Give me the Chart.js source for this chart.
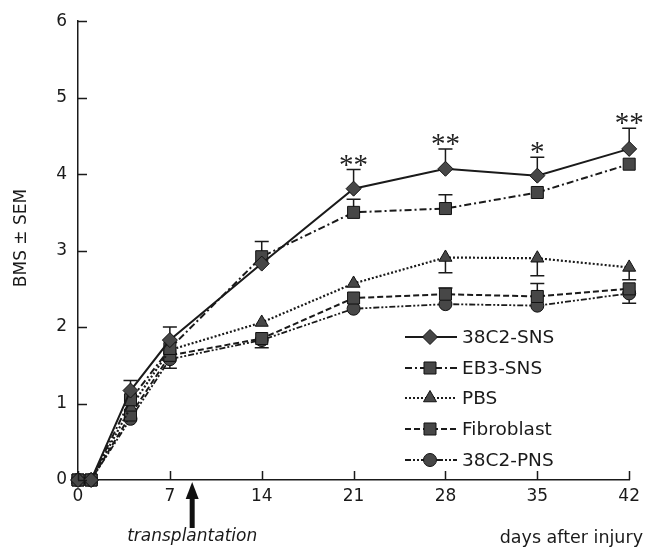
<!DOCTYPE html>
<html>
<head>
<meta charset="utf-8">
<script src="https://cdn.jsdelivr.net/npm/chart.js@4/dist/chart.umd.min.js"></script>
<style>
  html, body { margin: 0; padding: 0; background: #fff; }
  #wrap { width: 646px; height: 547px; }
</style>
</head>
<body>
<div id="wrap"><canvas id="bms" width="646" height="547"></canvas></div>
<script>
// Dias despues de la lesion
const days = [0, 1, 4, 7, 14, 21, 28, 35, 42];

// BMS medio por grupo
const sns38c2 = [0, 0, 1.17, 1.83, 2.83, 3.81, 4.07, 3.98, 4.33];
const eb3sns = [0, 0, 1.05, 1.72, 2.92, 3.50, 3.55, 3.76, 4.13];
const pbs = [0, 0, 0.95, 1.70, 2.06, 2.57, 2.91, 2.90, 2.78];
const fibroblast = [0, 0, 0.85, 1.63, 1.85, 2.38, 2.43, 2.40, 2.50];
const pns38c2 = [0, 0, 0.80, 1.58, 1.83, 2.24, 2.30, 2.28, 2.44];

// SEM (solo las barras visibles en la figura)
const sns38c2Sem = [0, 0, 0.13, 0.17, 0, 0.25, 0.26, 0.24, 0.27];
const eb3snsSem = [0, 0, 0, 0, 0.2, 0.17, 0.18, 0, 0];
const pbsSem = [0, 0, 0, 0, 0, 0, 0.2, 0.23, 0.16];
const fibroblastSem = [0, 0, 0, 0, 0, 0, 0.08, 0.17, 0];
const pns38c2Sem = [0, 0, 0, 0.12, 0.1, 0, 0, 0, 0.13];

// Significancia sobre 38C2-SNS
const stars = ['', '', '', '', '', '**', '**', '*', '**'];

const xTicks = [0, 7, 14, 21, 28, 35, 42];
const yTicks = [0, 1, 2, 3, 4, 5, 6];
const transplantDay = 8.7;

const seriesNames = ['38C2-SNS', 'EB3-SNS', 'PBS', 'Fibroblast', '38C2-PNS'];

const ink = '#1a1a1a';
const markFill = '#474747';
const sansFont = '"DejaVu Sans", "Liberation Sans", Arial, sans-serif';

function pts(values) {
  return days.map((d, i) => ({ x: d, y: values[i] }));
}

function series(label, values, sem, semDir, style, radius, dash, width) {
  return {
    label,
    data: pts(values),
    sem,
    semDir,
    clip: false,
    borderColor: ink,
    borderWidth: width,
    borderDash: dash,
    pointStyle: style,
    pointRadius: radius,
    pointHoverRadius: radius,
    pointBackgroundColor: markFill,
    pointBorderColor: '#111',
    pointBorderWidth: 1,
    tension: 0,
    fill: false
  };
}

const datasets = [
  series(seriesNames[0], sns38c2, sns38c2Sem, 1, 'rectRot', 7.5, [], 2),
  series(seriesNames[1], eb3sns, eb3snsSem, 1, 'rect', 8.5, [7, 3, 2, 3], 2),
  series(seriesNames[2], pbs, pbsSem, -1, 'triangle', 7.5, [2, 2], 2.2),
  series(seriesNames[3], fibroblast, fibroblastSem, 1, 'rect', 8.5, [6, 3], 2),
  series(seriesNames[4], pns38c2, pns38c2Sem, -1, 'circle', 6.5, [6, 2, 2, 2, 2, 2], 1.8)
];

// Barras de error (un solo sentido, como en la figura)
const errorBars = {
  id: 'errorBars',
  beforeDatasetsDraw(chart) {
    const { ctx, scales: { x, y } } = chart;
    ctx.save();
    ctx.strokeStyle = ink;
    ctx.lineWidth = 1.5;
    ctx.setLineDash([]);
    chart.data.datasets.forEach(ds => {
      ds.data.forEach((p, i) => {
        const e = ds.sem[i];
        if (!e) return;
        const px = x.getPixelForValue(p.x);
        const y0 = y.getPixelForValue(p.y);
        const y1 = y.getPixelForValue(p.y + ds.semDir * e);
        ctx.beginPath();
        ctx.moveTo(px, y0);
        ctx.lineTo(px, y1);
        ctx.moveTo(px - 7, y1);
        ctx.lineTo(px + 7, y1);
        ctx.stroke();
      });
    });
    ctx.restore();
  }
};

// Ticks hacia dentro, asteriscos, leyenda y rotulos
const decorations = {
  id: 'decorations',
  afterDraw(chart) {
    const { ctx, chartArea, scales: { x, y } } = chart;
    ctx.save();
    ctx.strokeStyle = ink;
    ctx.lineWidth = 1.5;
    ctx.setLineDash([]);
    ctx.beginPath();
    yTicks.forEach(v => {
      const py = Math.round(y.getPixelForValue(v)) + 0.5;
      ctx.moveTo(chartArea.left, py);
      ctx.lineTo(chartArea.left + 9, py);
    });
    xTicks.forEach(v => {
      const px = Math.round(x.getPixelForValue(v)) + 0.5;
      ctx.moveTo(px, chartArea.bottom);
      ctx.lineTo(px, chartArea.bottom - 9);
    });
    ctx.stroke();

    // asteriscos
    ctx.fillStyle = '#222';
    ctx.font = '29px "Liberation Serif", "Times New Roman", serif';
    ctx.textAlign = 'center';
    ctx.textBaseline = 'alphabetic';
    stars.forEach((s, i) => {
      if (!s) return;
      const px = x.getPixelForValue(days[i]);
      const py = y.getPixelForValue(sns38c2[i] + sns38c2Sem[i]);
      ctx.fillText(s, px, py + 4);
    });

    // leyenda
    const rows = [337, 368, 398, 429, 460];
    chart.data.datasets.forEach((ds, i) => {
      const ly = rows[i];
      ctx.strokeStyle = ink;
      ctx.lineWidth = ds.borderWidth;
      ctx.setLineDash(ds.borderDash);
      ctx.beginPath();
      ctx.moveTo(405, ly);
      ctx.lineTo(457, ly);
      ctx.stroke();
      ctx.setLineDash([]);
      ctx.fillStyle = markFill;
      ctx.strokeStyle = '#111';
      ctx.lineWidth = 1;
      Chart.helpers.drawPoint(ctx, {
        pointStyle: ds.pointStyle,
        radius: ds.pointRadius,
        rotation: 0,
        borderWidth: 1
      }, 430, ly);
      ctx.fillStyle = '#1a1a1a';
      ctx.font = '18.5px ' + sansFont;
      ctx.textAlign = 'left';
      ctx.textBaseline = 'middle';
      ctx.fillText(ds.label, 462, ly + 1);
    });

    // titulo eje Y
    ctx.save();
    ctx.translate(22, 238);
    ctx.rotate(-Math.PI / 2);
    ctx.font = '17px ' + sansFont;
    ctx.textAlign = 'center';
    ctx.textBaseline = 'middle';
    ctx.fillStyle = '#1a1a1a';
    ctx.fillText('BMS \u00B1 SEM', 0, 0);
    ctx.restore();

    // titulo eje X
    ctx.font = '17.5px ' + sansFont;
    ctx.textAlign = 'right';
    ctx.textBaseline = 'alphabetic';
    ctx.fillText('days after injury', 643, 543);

    // flecha de trasplante
    const ax = x.getPixelForValue(transplantDay);
    ctx.fillStyle = '#111';
    ctx.fillRect(ax - 2.5, 496, 5, 32);
    ctx.beginPath();
    ctx.moveTo(ax, 482);
    ctx.lineTo(ax - 6.5, 499);
    ctx.lineTo(ax + 6.5, 499);
    ctx.closePath();
    ctx.fill();
    ctx.font = 'italic 17px ' + sansFont;
    ctx.textAlign = 'center';
    ctx.fillStyle = '#1a1a1a';
    ctx.fillText('transplantation', ax, 541);
    ctx.restore();
  }
};

new Chart(document.getElementById('bms'), {
  type: 'line',
  data: { datasets },
  options: {
    responsive: false,
    animation: false,
    events: [],
    layout: { padding: { top: 20, right: 14, left: 0, bottom: 0 } },
    plugins: {
      legend: { display: false },
      tooltip: { enabled: false }
    },
    scales: {
      x: {
        type: 'linear',
        min: 0,
        max: 42,
        grid: { display: false, drawTicks: false },
        border: { display: true, color: ink, width: 1.5 },
        ticks: {
          stepSize: 7,
          padding: 6,
          color: '#1a1a1a',
          font: { family: sansFont, size: 17 }
        },
        afterFit: scale => { scale.height = 67; }
      },
      y: {
        min: 0,
        max: 6,
        grid: { display: false, drawTicks: false },
        border: { display: true, color: ink, width: 1.5 },
        ticks: {
          stepSize: 1,
          padding: 11,
          color: '#1a1a1a',
          font: { family: sansFont, size: 17 }
        },
        afterFit: scale => { scale.width = 78; }
      }
    }
  },
  plugins: [errorBars, decorations]
});
</script>
</body>
</html>
